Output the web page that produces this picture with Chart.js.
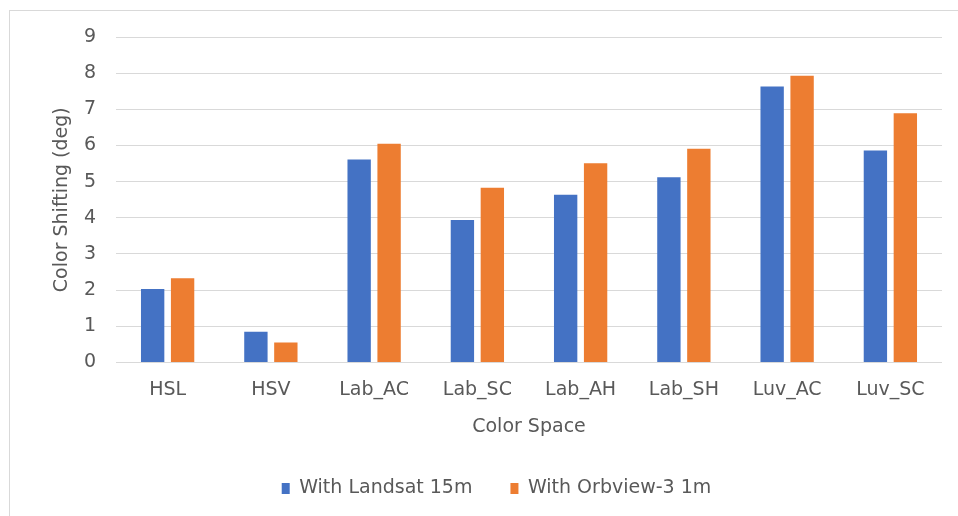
<!DOCTYPE html>
<html>
<head>
<meta charset="utf-8">
<script src="https://cdn.jsdelivr.net/npm/chart.js@4"></script>
<style>
  html, body { margin: 0; padding: 0; background: #fff; }
  #frame {
    position: absolute; left: 9px; top: 10px; width: 948px; height: 505px;
    border-left: 1px solid #d9d9d9; border-top: 1px solid #d9d9d9;
  }
</style>
</head>
<body>
<div id="frame"><canvas id="colorChart" width="948" height="505"></canvas></div>
<script>
const categories = ["HSL", "HSV", "Lab_AC", "Lab_SC", "Lab_AH", "Lab_SH", "Luv_AC", "Luv_SC"];
const landsat = [2.03, 0.85, 5.61, 3.94, 4.64, 5.12, 7.63, 5.86];
const orbview = [2.33, 0.55, 6.05, 4.83, 5.51, 5.91, 7.93, 6.89];
const seriesNames = ["With Landsat 15m", "With Orbview-3 1m"];
const yTicks = [0, 1, 2, 3, 4, 5, 6, 7, 8, 9];

document.addEventListener("DOMContentLoaded", function () {
  const ctx = document.getElementById("colorChart");
  const font = { family: "DejaVu Sans", size: 19 };
  new Chart(ctx, {
    type: "bar",
    data: {
      labels: categories,
      datasets: [
        { label: seriesNames[0], data: landsat, backgroundColor: "#4472C4" },
        { label: seriesNames[1], data: orbview, backgroundColor: "#ED7D31" },
      ],
    },
    options: {
      responsive: false,
      animation: false,
      categoryPercentage: 0.58,
      barPercentage: 0.78,
      layout: { autoPadding: false, padding: { left: 41, right: 16, top: 26, bottom: 8 } },
      scales: {
        x: {
          grid: { display: false },
          border: { display: false },
          ticks: { color: "#595959", font: font, padding: 8 },
          title: { display: true, text: "Color Space", color: "#595959", font: font, padding: { top: 6, bottom: 3 } },
        },
        y: {
          min: 0,
          max: 9,
          afterBuildTicks: function (axis) {
            axis.ticks = yTicks.map(function (v) { return { value: v }; });
          },
          afterFit: function (axis) {
            axis.width = 65;
            axis.paddingTop = 0;
            axis.paddingBottom = 0;
          },
          grid: { color: "#d9d9d9", lineWidth: 1, drawTicks: false },
          border: { display: false },
          ticks: { color: "#595959", font: font, padding: 20 },
          title: { display: true, text: "Color Shifting (deg)", color: "#595959", font: font, padding: 0 },
        },
      },
      plugins: {
        legend: {
          position: "bottom",
          labels: { color: "#595959", font: font, boxWidth: 8, boxHeight: 11, padding: 38 },
        },
        tooltip: { enabled: false },
      },
    },
  });
});
</script>
</body>
</html>
